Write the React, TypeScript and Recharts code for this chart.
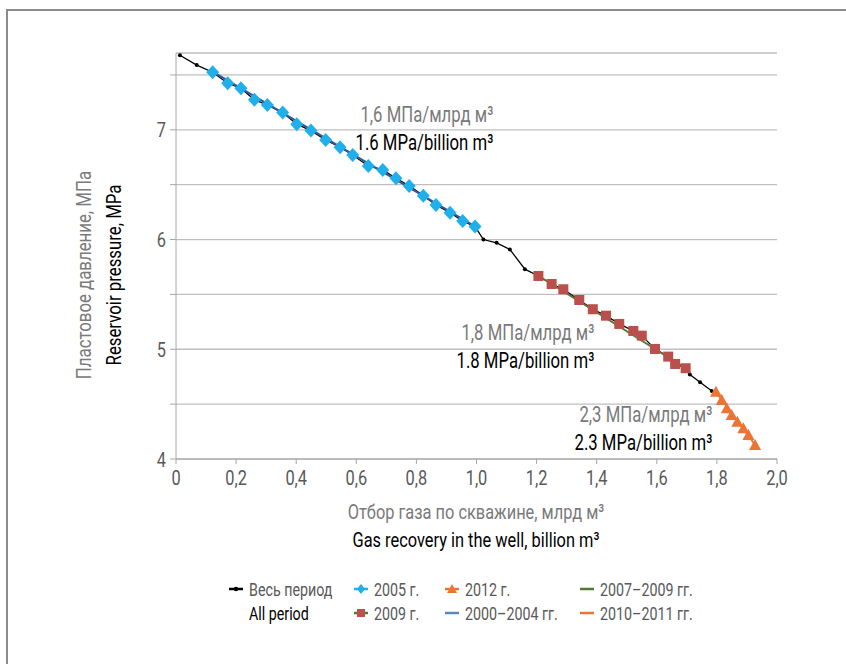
import React from "react";
import {
  ComposedChart,
  Line,
  Scatter,
  XAxis,
  YAxis,
  CartesianGrid,
} from "recharts";

// recovery, billion m3 (x) / reservoir pressure, MPa (y)
const startPoints = [
  { x: 0.013, y: 7.68 },
  { x: 0.069, y: 7.59 },
];

const points2005 = [
  { x: 0.122, y: 7.525 },
  { x: 0.172, y: 7.425 },
  { x: 0.216, y: 7.379 },
  { x: 0.261, y: 7.273 },
  { x: 0.304, y: 7.227 },
  { x: 0.355, y: 7.157 },
  { x: 0.402, y: 7.051 },
  { x: 0.449, y: 6.993 },
  { x: 0.498, y: 6.908 },
  { x: 0.546, y: 6.841 },
  { x: 0.588, y: 6.771 },
  { x: 0.64, y: 6.671 },
  { x: 0.688, y: 6.634 },
  { x: 0.732, y: 6.559 },
  { x: 0.776, y: 6.489 },
  { x: 0.823, y: 6.4 },
  { x: 0.865, y: 6.315 },
  { x: 0.912, y: 6.245 },
  { x: 0.954, y: 6.17 },
  { x: 0.995, y: 6.118 },
];

const middlePoints = [
  { x: 1.023, y: 6.0 },
  { x: 1.067, y: 5.97 },
  { x: 1.111, y: 5.91 },
  { x: 1.161, y: 5.73 },
];

const points2009 = [
  { x: 1.206, y: 5.668 },
  { x: 1.25, y: 5.595 },
  { x: 1.289, y: 5.547 },
  { x: 1.342, y: 5.449 },
  { x: 1.387, y: 5.365 },
  { x: 1.431, y: 5.306 },
  { x: 1.475, y: 5.231 },
  { x: 1.522, y: 5.167 },
  { x: 1.55, y: 5.124 },
  { x: 1.594, y: 5.003 },
  { x: 1.638, y: 4.933 },
  { x: 1.661, y: 4.866 },
  { x: 1.696, y: 4.827 },
];

const endPoints = [
  { x: 1.71, y: 4.77 },
  { x: 1.744, y: 4.7 },
  { x: 1.783, y: 4.62 },
];

const points2012 = [
  { x: 1.797, y: 4.613 },
  { x: 1.816, y: 4.538 },
  { x: 1.833, y: 4.462 },
  { x: 1.849, y: 4.401 },
  { x: 1.868, y: 4.34 },
  { x: 1.888, y: 4.28 },
  { x: 1.905, y: 4.219 },
  { x: 1.927, y: 4.128 },
];

// trend lines
const trend2000_2004 = [
  { x: 0.122, y: 7.53 },
  { x: 0.995, y: 6.12 },
];
const trend2007_2009 = [
  { x: 1.206, y: 5.67 },
  { x: 1.7, y: 4.82 },
];
const trend2010_2011 = [
  { x: 1.797, y: 4.61 },
  { x: 1.927, y: 4.13 },
];

const allPeriod = [
  ...startPoints,
  ...points2005,
  ...middlePoints,
  ...points2009,
  ...endPoints,
];

const xTicks = [0, 0.2, 0.4, 0.6, 0.8, 1.0, 1.2, 1.4, 1.6, 1.8, 2.0];
const yTicks = [4, 4.5, 5, 5.5, 6, 6.5, 7, 7.5];

// no condensed face installed, so Roboto is squeezed horizontally
const FONT = "Roboto, 'Noto Sans', sans-serif";
const GRAY = "#595959";
const C_CYAN = "#1fb0ec";
const C_BLUE = "#34599c";
const C_RED = "#b9504c";
const C_GREEN = "#4e7a34";
const C_ORANGE = "#ec7434";

const Diamond = (props: any) => {
  const { cx, cy } = props;
  if (cx == null || cy == null) return null;
  return (
    <path
      d={`M${cx},${cy - 7}L${cx + 6.5},${cy}L${cx},${cy + 7}L${cx - 6.5},${cy}Z`}
      fill={C_CYAN}
    />
  );
};

const Square = (props: any) => {
  const { cx, cy } = props;
  if (cx == null || cy == null) return null;
  return <rect x={cx - 5} y={cy - 5} width={10} height={10} fill={C_RED} />;
};

const Triangle = (props: any) => {
  const { cx, cy } = props;
  if (cx == null || cy == null) return null;
  return (
    <path
      d={`M${cx},${cy - 6}L${cx + 6},${cy + 5}L${cx - 6},${cy + 5}Z`}
      fill={C_ORANGE}
    />
  );
};

const fmtX = (v: number) => (v === 0 ? "0" : v.toFixed(1).replace(".", ","));
const fmtY = (v: number) => (Number.isInteger(v) ? String(v) : "");

const XTick = (props: any) => {
  const { x, y, payload } = props;
  return (
    <text
      transform={`translate(${x},${y + 19}) scale(0.78,1)`}
      textAnchor="middle"
      fill={GRAY}
      fontSize={21}
    >
      {fmtX(payload.value)}
    </text>
  );
};

const YTick = (props: any) => {
  const { x, y, payload } = props;
  return (
    <text
      transform={`translate(${x - 2},${y + 7.5}) scale(0.78,1)`}
      textAnchor="end"
      fill={GRAY}
      fontSize={21}
    >
      {fmtY(payload.value)}
    </text>
  );
};

const Note = ({
  right,
  top,
  ru,
  en,
}: {
  right: number;
  top: number;
  ru: string;
  en: string;
}) => (
  <div
    style={{
      position: "absolute",
      right: 846 - right,
      top,
      textAlign: "right",
      fontSize: 22,
      lineHeight: "28px",
      whiteSpace: "nowrap",
      transform: "scaleX(0.76)",
      transformOrigin: "right center",
    }}
  >
    <div style={{ color: "#7a7a7a" }}>{ru}</div>
    <div style={{ color: "#000" }}>{en}</div>
  </div>
);

const LegendItem = ({
  left,
  top,
  label,
  color,
  line,
  marker,
  textColor = GRAY,
}: {
  left: number;
  top: number;
  label: string;
  color?: string;
  line?: string;
  marker?: "dot" | "diamond" | "square" | "triangle";
  textColor?: string;
}) => (
  <div
    style={{
      position: "absolute",
      left,
      top: top - 12,
      height: 24,
      display: "flex",
      alignItems: "center",
      whiteSpace: "nowrap",
      fontSize: 19,
      color: textColor,
    }}
  >
    <svg width={17} height={14} style={{ marginRight: 4 }}>
      {line && <line x1={1} y1={7} x2={15} y2={7} stroke={line} strokeWidth={2.5} />}
      {marker === "dot" && <circle cx={8} cy={7} r={2.2} fill="#000" />}
      {marker === "diamond" && <path d="M8,2L12,7L8,12L4,7Z" fill={color} />}
      {marker === "square" && <rect x={4} y={3} width={8} height={8} fill={color} />}
      {marker === "triangle" && <path d="M8,2L13,11L3,11Z" fill={color} />}
    </svg>
    <span
      style={{
        display: "inline-block",
        transform: "scaleX(0.75)",
        transformOrigin: "left center",
      }}
    >
      {label}
    </span>
  </div>
);

export default function App() {
  return (
    <div
      style={{
        position: "absolute",
        left: 0,
        top: 0,
        width: 846,
        height: 664,
        background: "#fff",
        fontFamily: FONT,
        overflow: "hidden",
      }}
    >
      <div
        style={{
          position: "absolute",
          left: 6,
          top: 9,
          width: 860,
          height: 700,
          borderLeft: "2px solid #8c8c8c",
          borderTop: "2px solid #8c8c8c",
        }}
      />
      <div style={{ position: "absolute", left: 0, top: 0 }}>
        <ComposedChart
          width={846}
          height={664}
          margin={{ top: 53, right: 69, bottom: 175, left: 116 }}
        >
          <CartesianGrid
            horizontal
            vertical={false}
            stroke="#bfbfbf"
            strokeWidth={1.3}
          />
          <XAxis
            type="number"
            dataKey="x"
            domain={[0, 2]}
            ticks={xTicks}
            height={30}
            stroke="#a6a6a6"
            tickLine={{ stroke: "#a6a6a6" }}
            tickSize={5}
            tick={<XTick />}
            allowDataOverflow
          />
          <YAxis
            type="number"
            dataKey="y"
            domain={[4, 7.7]}
            ticks={yTicks}
            width={60}
            stroke="#a6a6a6"
            tickLine={{ stroke: "#a6a6a6" }}
            tickSize={6}
            tick={<YTick />}
            allowDataOverflow
          />
          <Line
            data={allPeriod}
            dataKey="y"
            stroke="#000"
            strokeWidth={1.3}
            dot={{ r: 2, fill: "#000", stroke: "#000", strokeWidth: 0 }}
            isAnimationActive={false}
            legendType="none"
          />
          <Scatter
            data={points2005}
            dataKey="y"
            shape={Diamond}
            isAnimationActive={false}
          />
          <Scatter
            data={points2009}
            dataKey="y"
            shape={Square}
            isAnimationActive={false}
          />
          <Scatter
            data={points2012}
            dataKey="y"
            shape={Triangle}
            isAnimationActive={false}
          />
          <Line
            data={trend2000_2004}
            dataKey="y"
            stroke={C_BLUE}
            strokeWidth={2}
            dot={false}
            isAnimationActive={false}
          />
          <Line
            data={trend2007_2009}
            dataKey="y"
            stroke={C_GREEN}
            strokeWidth={2}
            dot={false}
            isAnimationActive={false}
          />
          <Line
            data={trend2010_2011}
            dataKey="y"
            stroke={C_ORANGE}
            strokeWidth={2}
            dot={false}
            isAnimationActive={false}
          />
        </ComposedChart>
      </div>

      {/* annotations */}
      <Note right={493} top={101} ru="1,6 МПа/млрд м³" en="1.6 MPa/billion m³" />
      <Note right={594} top={319} ru="1,8 МПа/млрд м³" en="1.8 MPa/billion m³" />
      <Note right={712} top={401} ru="2,3 МПа/млрд м³" en="2.3 MPa/billion m³" />

      {/* y-axis title */}
      <div
        style={{
          position: "absolute",
          left: 99,
          top: 275,
          transform: "translate(-50%, -50%) rotate(-90deg) scaleX(0.8)",
          textAlign: "center",
          fontSize: 21,
          lineHeight: "30px",
          whiteSpace: "nowrap",
        }}
      >
        <div style={{ color: "#7a7a7a" }}>Пластовое давление, МПа</div>
        <div style={{ color: "#000" }}>Reservoir pressure, MPa</div>
      </div>

      {/* x-axis title */}
      <div
        style={{
          position: "absolute",
          left: 476,
          top: 526,
          transform: "translate(-50%, -50%) scaleX(0.78)",
          textAlign: "center",
          fontSize: 21,
          lineHeight: "28px",
          whiteSpace: "nowrap",
        }}
      >
        <div style={{ color: "#7a7a7a" }}>Отбор газа по скважине, млрд м³</div>
        <div style={{ color: "#000" }}>Gas recovery in the well, billion m³</div>
      </div>

      {/* legend */}
      <LegendItem left={228} top={589} label="Весь период" line="#000" marker="dot" />
      <LegendItem left={228} top={613} label="All period" textColor="#000" />
      <LegendItem left={353} top={589} label="2005 г." line={C_CYAN} color={C_CYAN} marker="diamond" />
      <LegendItem left={353} top={613} label="2009 г." line={C_GREEN} color={C_RED} marker="square" />
      <LegendItem left={444} top={589} label="2012 г." line={C_ORANGE} color={C_ORANGE} marker="triangle" />
      <LegendItem left={444} top={613} label="2000–2004 гг." line="#5b86c4" />
      <LegendItem left={579} top={589} label="2007–2009 гг." line={C_GREEN} />
      <LegendItem left={579} top={613} label="2010–2011 гг." line={C_ORANGE} />
    </div>
  );
}
